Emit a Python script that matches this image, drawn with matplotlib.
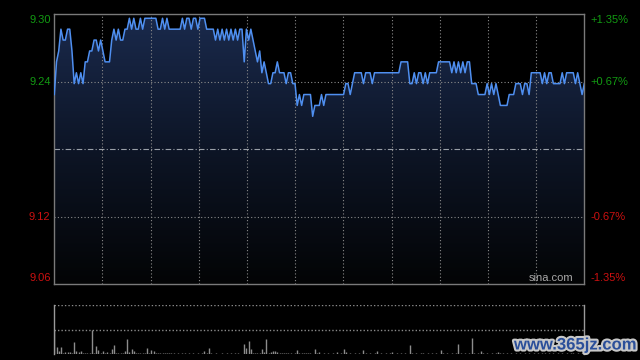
import numpy as np
import matplotlib
matplotlib.use("Agg")
import matplotlib.pyplot as plt
import matplotlib.patheffects as pe
from matplotlib.colors import LinearSegmentedColormap

plt.rcParams['font.family'] = ['Liberation Sans', 'DejaVu Sans']

# intraday price, one point per minute (241 points)
price = [
    9.23, 9.26, 9.27, 9.29, 9.28, 9.28, 9.29, 9.29, 9.27, 9.24,
    9.25, 9.24, 9.25, 9.24, 9.26, 9.26, 9.27, 9.27, 9.28, 9.28,
    9.27, 9.28, 9.27, 9.26, 9.26, 9.26, 9.28, 9.29, 9.28, 9.29,
    9.28, 9.28, 9.29, 9.29, 9.30, 9.29, 9.30, 9.29, 9.29, 9.30,
    9.29, 9.30, 9.30, 9.30, 9.30, 9.30, 9.30, 9.29, 9.29, 9.30,
    9.29, 9.30, 9.29, 9.29, 9.29, 9.29, 9.29, 9.29, 9.30, 9.29,
    9.30, 9.30, 9.29, 9.30, 9.30, 9.29, 9.30, 9.30, 9.30, 9.29,
    9.29, 9.29, 9.29, 9.28, 9.29, 9.28, 9.29, 9.28, 9.29, 9.28,
    9.29, 9.28, 9.29, 9.28, 9.29, 9.29, 9.26, 9.29, 9.28, 9.29,
    9.28, 9.27, 9.26, 9.27, 9.25, 9.26, 9.25, 9.24, 9.24, 9.25,
    9.25, 9.26, 9.25, 9.25, 9.25, 9.24, 9.25, 9.25, 9.24, 9.24,
    9.22, 9.23, 9.22, 9.23, 9.23, 9.23, 9.23, 9.21, 9.22, 9.22,
    9.22, 9.23, 9.22, 9.23, 9.23, 9.23, 9.23, 9.23, 9.23, 9.23,
    9.23, 9.23, 9.24, 9.24, 9.23, 9.24, 9.25, 9.25, 9.25, 9.25,
    9.24, 9.25, 9.25, 9.25, 9.24, 9.25, 9.25, 9.25, 9.25, 9.25,
    9.25, 9.25, 9.25, 9.25, 9.25, 9.25, 9.25, 9.26, 9.26, 9.26,
    9.26, 9.24, 9.24, 9.25, 9.24, 9.25, 9.25, 9.24, 9.25, 9.24,
    9.25, 9.25, 9.25, 9.25, 9.26, 9.26, 9.26, 9.26, 9.26, 9.26,
    9.25, 9.26, 9.25, 9.26, 9.25, 9.26, 9.25, 9.26, 9.26, 9.24,
    9.24, 9.24, 9.23, 9.23, 9.23, 9.23, 9.24, 9.23, 9.24, 9.23,
    9.24, 9.23, 9.22, 9.22, 9.22, 9.22, 9.23, 9.23, 9.23, 9.24,
    9.24, 9.24, 9.23, 9.24, 9.24, 9.23, 9.25, 9.25, 9.25, 9.25,
    9.25, 9.24, 9.25, 9.24, 9.25, 9.25, 9.24, 9.24, 9.24, 9.24,
    9.25, 9.24, 9.25, 9.25, 9.25, 9.25, 9.24, 9.25, 9.24, 9.23,
    9.24,
]

# volume per minute (relative units, panel top = 100)
volume = [
    50, 14, 6, 15, 3, 5, 4, 4, 3, 25,
    6, 5, 6, 2, 3, 3, 3, 50, 3, 17,
    8, 3, 7, 2, 4, 3, 11, 19, 3, 3,
    2, 3, 7, 31, 4, 11, 7, 3, 2, 3,
    2, 3, 13, 3, 9, 7, 3, 2, 2, 2,
    2, 2, 3, 2, 3, 1, 2, 1, 2, 2,
    1, 2, 1, 2, 1, 2, 1, 2, 7, 2,
    13, 2, 1, 2, 1, 1, 2, 1, 2, 1,
    2, 1, 2, 2, 1, 1, 21, 13, 27, 11,
    3, 2, 3, 2, 11, 4, 31, 2, 4, 7,
    6, 4, 2, 3, 2, 2, 3, 2, 1, 2,
    9, 2, 3, 2, 3, 2, 2, 1, 11, 2,
    4, 1, 2, 1, 2, 1, 2, 1, 4, 1,
    2, 10, 4, 1, 2, 1, 2, 1, 2, 1,
    9, 2, 1, 2, 1, 2, 7, 1, 2, 1,
    2, 1, 2, 4, 1, 2, 1, 2, 1, 2,
    1, 19, 2, 1, 2, 1, 2, 3, 1, 2,
    1, 2, 1, 2, 1, 9, 2, 1, 2, 1,
    2, 1, 2, 21, 2, 1, 2, 1, 2, 32,
    2, 1, 2, 7, 2, 1, 2, 1, 2, 1,
    3, 4, 3, 2, 1, 2, 1, 2, 1, 2,
    1, 2, 1, 2, 1, 2, 1, 2, 1, 2,
    1, 2, 3, 1, 2, 1, 2, 1, 2, 1,
    2, 1, 2, 1, 2, 3, 1, 2, 1, 2,
    3,
]

prev_close = 9.18
left_labels = ['9.30', '9.24', '9.12', '9.06']
right_labels = ['+1.35%', '+0.67%', '-0.67%', '-1.35%']
label_colors = ['#129a12', '#129a12', '#cc1010', '#cc1010']

minutes = np.arange(len(price))
ylo = prev_close * (1 - 0.0135)
yhi = prev_close * (1 + 0.0135)
g_hi = prev_close * (1 + 0.00675)
g_lo = prev_close * (1 - 0.00675)

fig = plt.figure(figsize=(6.4, 3.6), dpi=100, facecolor='black')
ax = fig.add_axes([54.3 / 640, 1 - 284 / 360, 530 / 640, 270 / 360])
vax = fig.add_axes([54.3 / 640, 1 - 354.3 / 360, 530 / 640, 49.6 / 360])

# --- price panel ---
ax.set_facecolor('black')
ax.set_xlim(0, 240)
ax.set_ylim(ylo, yhi)

cmap = LinearSegmentedColormap.from_list('bg', ['#030405', '#0d1526', '#1a2a4d'])
grad = np.linspace(0, 1, 256).reshape(-1, 1)
im = ax.imshow(grad, cmap=cmap, origin='lower', aspect='auto',
               extent=[0, 240, ylo, yhi], zorder=1)
poly = ax.fill_between(minutes, price, ylo, facecolor='none', edgecolor='none')
im.set_clip_path(poly.get_paths()[0], transform=ax.transData)

for k in range(1, 11):
    ax.axvline(240 * k / 11, color='#8a8a8a', lw=0.8, ls=(0, (1, 2)), zorder=2)
for g in (g_hi, g_lo):
    ax.axhline(g, color='#8a8a8a', lw=0.8, ls=(0, (1, 2)), zorder=2)
ax.axhline(prev_close, color='#9aa0a8', lw=0.8, ls=(0, (5, 2, 1, 2)), zorder=2)

ax.plot(minutes, price, color='#4f8ff0', lw=1.1, zorder=3)

ax.set_xticks([])
ax.set_yticks([])
for s in ax.spines.values():
    s.set_color('#7a7a7a')
    s.set_linewidth(1)

ypos = [0.978, (g_hi - ylo) / (yhi - ylo), (g_lo - ylo) / (yhi - ylo), 0.021]
for lab, rlab, c, yp in zip(left_labels, right_labels, label_colors, ypos):
    ax.text(-0.007, yp, lab, transform=ax.transAxes, ha='right', va='center',
            color=c, fontsize=8)
    ax.text(1.011, yp, rlab, transform=ax.transAxes, ha='left', va='center',
            color=c, fontsize=8)

ax.text(0.979, 0.021, 'sina.com', transform=ax.transAxes, ha='right', va='center',
        color='#a8a8a8', fontsize=8, zorder=4)

# --- volume panel ---
vax.set_facecolor('black')
vax.set_xlim(0, 240)
vax.set_ylim(0, 100)
vax.vlines(minutes, 0, volume, color='#8c8c8c', lw=1)
vax.axhline(100, color='#8a8a8a', lw=1, ls=(0, (1, 1.5)))
vax.axhline(50, color='#8a8a8a', lw=1, ls=(0, (1, 1.5)))
vax.set_xticks([])
vax.set_yticks([])
for side in ('top', 'bottom'):
    vax.spines[side].set_visible(False)
for side in ('left', 'right'):
    vax.spines[side].set_color('#9a9a9a')
    vax.spines[side].set_linewidth(1)

fig.text(575 / 640, 1 - 345 / 360, 'www.365jz.com', ha='center', va='center',
         color='#2b4f9a', fontsize=12, fontweight='bold',
         path_effects=[pe.withStroke(linewidth=3, foreground='#c8c8c8')])

fig.savefig('out.png', dpi=100, facecolor='black')
